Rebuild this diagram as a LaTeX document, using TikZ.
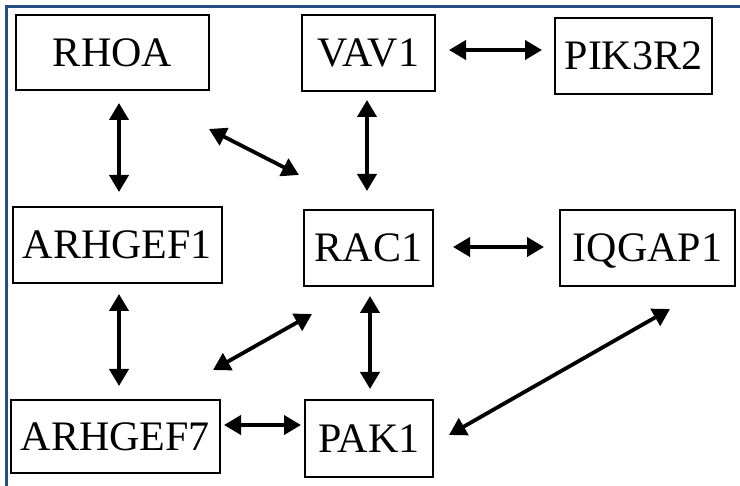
\documentclass[tikz,border=0pt]{standalone}
\usepackage{fontspec}
\setmainfont{Liberation Serif}
\usetikzlibrary{arrows.meta}
\definecolor{frameblue}{RGB}{38,77,132}
\begin{document}
\begin{tikzpicture}[x=1pt,y=-1pt,
  gene/.style={draw=black,line width=2pt,fill=white,inner sep=0pt,
    text height=28pt,text depth=0pt,font=\fontsize{42}{46}\selectfont},
  arr/.style={line width=3.8pt,
    {Triangle[length=17pt,width=19pt]}-{Triangle[length=17pt,width=19pt]}}]
\useasboundingbox (0,0) rectangle (740,486);
\fill[white] (0,0) rectangle (740,486);
\draw[frameblue,line width=3pt] (6.5,486) -- (6.5,6.5) -- (740,6.5);

\node[gene,minimum width=193pt,minimum height=75pt] (rhoa) at (112.5,52.5) {RHOA};
\node[gene,minimum width=133pt,minimum height=76pt] (vav1) at (368.5,53) {VAV1};
\node[gene,minimum width=157pt,minimum height=76pt] (pik3r2) at (633.5,56) {PIK3R2};
\node[gene,minimum width=209pt,minimum height=76pt] (arhgef1) at (117.5,245) {ARHGEF1};
\node[gene,minimum width=129pt,minimum height=76pt] (rac1) at (368.5,248) {RAC1};
\node[gene,minimum width=175pt,minimum height=76pt] (iqgap1) at (647.5,248) {IQGAP1};
\node[gene,minimum width=209pt,minimum height=73pt] (arhgef7) at (115.5,436.5) {ARHGEF7};
\node[gene,minimum width=128pt,minimum height=77pt] (pak1) at (369,438.5) {PAK1};

% vertical connectors
\draw[arr,shorten <=12pt,shorten >=14pt] ([xshift=6.5pt]rhoa.south) -- ([xshift=1.5pt]arhgef1.north);
\draw[arr,shorten <=8pt,shorten >=18pt] ([xshift=-1.5pt]vav1.south) -- ([xshift=-1.5pt]rac1.north);
\draw[arr,shorten <=10pt,shorten >=13pt] ([xshift=1.5pt]arhgef1.south) -- ([xshift=3.5pt]arhgef7.north);
\draw[arr,shorten <=9pt,shorten >=10pt] ([xshift=1.5pt]rac1.south) -- ([xshift=1pt]pak1.north);

% horizontal connectors
\draw[arr,shorten <=13pt,shorten >=12pt] ([yshift=3pt]vav1.east) -- ([yshift=6pt]pik3r2.west);
\draw[arr,shorten <=19pt,shorten >=15pt] ([yshift=1pt]rac1.east) -- ([yshift=1pt]iqgap1.west);
\draw[arr,shorten <=3pt,shorten >=3pt] ([yshift=11.5pt]arhgef7.east) -- ([yshift=13.5pt]pak1.west);

% diagonal connectors
\draw[arr] ([shift={(-1,38)}]rhoa.south east) -- ([shift={(-4,-34)}]rac1.north west);
\draw[arr] ([shift={(-8,-29)}]arhgef7.north east) -- ([shift={(9,27)}]rac1.south west);
\draw[arr] ([shift={(15,-3.5)}]pak1.east) -- ([shift={(22.5,22)}]iqgap1.south);
\end{tikzpicture}
\end{document}
